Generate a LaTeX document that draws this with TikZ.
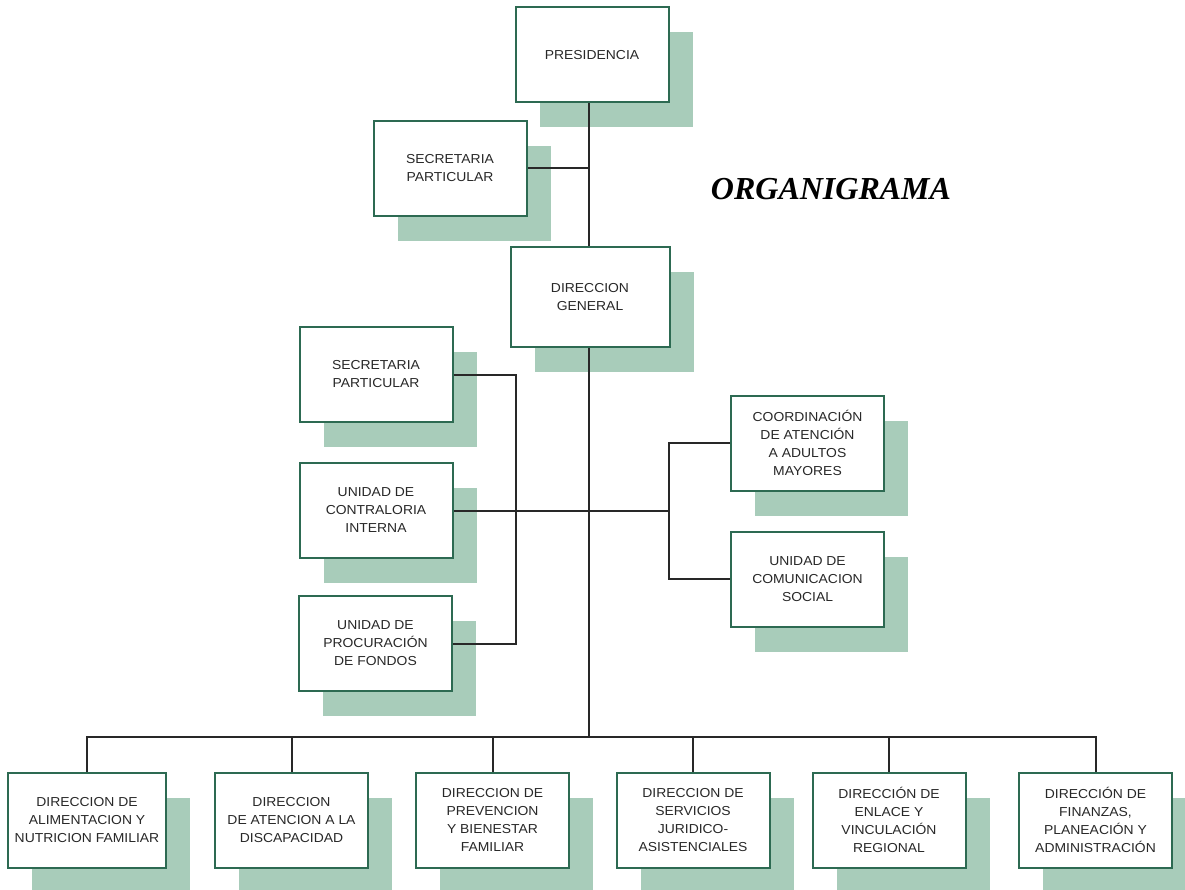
\documentclass[tikz,border=0pt]{standalone}
\usepackage{fontspec}
\setmainfont{Liberation Sans}[FakeStretch=1.07]
\newfontfamily\titlefont{Liberation Serif}
\usetikzlibrary{shadows}
\definecolor{boxgreen}{RGB}{45,106,82}
\definecolor{shadegreen}{RGB}{168,204,186}
\definecolor{inkgray}{RGB}{40,40,40}
\tikzset{
  orgbox/.style={draw=boxgreen, line width=2pt, fill=white, align=center,
    minimum width=153pt, minimum height=95pt, inner sep=2pt, text=inkgray,
    font=\fontsize{13}{18}\selectfont,
    drop shadow={shadow xshift=24pt, shadow yshift=-25pt, fill=shadegreen, opacity=1}},
  wide/.style={minimum width=158pt},
  link/.style={draw=inkgray, line width=2pt}
}
\begin{document}
\begin{tikzpicture}[x=1pt,y=-1pt]
\useasboundingbox (0,0) rectangle (1185,890);
% nodes
\node[orgbox] (pres) at (592,55) {PRESIDENCIA};
\node[orgbox] (sec1) at (450,168.5) {SECRETARIA\\PARTICULAR};
\node[orgbox, minimum width=159pt, minimum height=99pt] (dg) at (590,297) {DIRECCION\\GENERAL};
\node[orgbox] (sec2) at (376,374.5) {SECRETARIA\\PARTICULAR};
\node[orgbox] (ct) at (376,510.5) {UNIDAD DE\\CONTRALORIA\\INTERNA};
\node[orgbox] (pf) at (375.5,643.5) {UNIDAD DE\\PROCURACIÓN\\DE FONDOS};
\node[orgbox] (co) at (807.5,443) {COORDINACIÓN\\DE ATENCIÓN\\A ADULTOS\\MAYORES};
\node[orgbox] (cs) at (807.5,579) {UNIDAD DE\\COMUNICACION\\SOCIAL};
\node[orgbox, wide] (b1) at (87,820) {DIRECCION DE\\ALIMENTACION Y\\NUTRICION FAMILIAR};
\node[orgbox] (b2) at (291.5,820) {DIRECCION\\DE ATENCION A LA\\DISCAPACIDAD};
\node[orgbox] (b3) at (492.5,820) {DIRECCION DE\\PREVENCION\\Y BIENESTAR\\FAMILIAR};
\node[orgbox] (b4) at (693,820) {DIRECCION DE\\SERVICIOS\\JURIDICO-\\ASISTENCIALES};
\node[orgbox] (b5) at (889,820) {DIRECCIÓN DE\\ENLACE Y\\VINCULACIÓN\\REGIONAL};
\node[orgbox] (b6) at (1095.5,820) {DIRECCIÓN DE\\FINANZAS,\\PLANEACIÓN Y\\ADMINISTRACIÓN};
\node[anchor=base, font=\titlefont\fontsize{32}{36}\selectfont\bfseries\itshape] (title) at (831,200) {ORGANIGRAMA};
% helper coordinates
\coordinate (spine) at (589,0);
\coordinate (bus) at (589,737);
\coordinate (lb) at (516,0);
\coordinate (rb) at (669,0);
% connectors
\draw[link] (pres.south -| spine) -- (dg.north -| spine);
\draw[link] (sec1.east) -- (sec1.east -| spine);
\draw[link] (dg.south -| spine) -- (bus);
\draw[link] (sec2.east) -- (sec2.east -| lb) -- (pf.east -| lb) -- (pf.east);
\draw[link] (ct.east) -- (ct.east -| rb);
\draw[link] (co.west) -- (co.west -| rb) -- (cs.west -| rb) -- (cs.west);
\draw[link] (b1.north) -- (b1.north |- bus) -- (b6.north |- bus) -- (b6.north);
\draw[link] (b2.north) -- (b2.north |- bus);
\draw[link] (b3.north) -- (b3.north |- bus);
\draw[link] (b4.north) -- (b4.north |- bus);
\draw[link] (b5.north) -- (b5.north |- bus);
\end{tikzpicture}
\end{document}
